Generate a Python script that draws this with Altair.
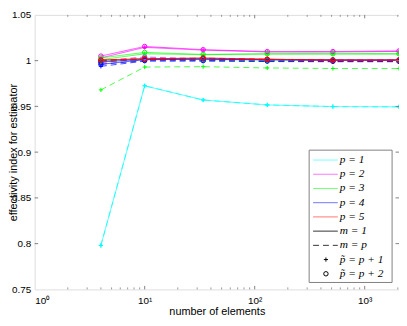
import altair as alt
import pandas as pd

# ---------------- data ----------------
x_elements = [4, 10, 34, 130, 514, 2050]

p_levels = ["1", "2", "3", "4", "5"]
p_colors = ["#00ffff", "#ff00ff", "#00ff00", "#0000ff", "#ff0000"]

# p = 1  (m = 1 and m = p coincide)
p1_m1_pp1 = [0.798, 0.9725, 0.957, 0.9516, 0.9498, 0.9495]
p1_m1_pp2 = [0.9990, 1.0030, 1.0010, 1.0005, 1.0002, 1.0001]
p1_mp_pp1 = [0.798, 0.9725, 0.957, 0.9516, 0.9498, 0.9495]
p1_mp_pp2 = [0.9990, 1.0030, 1.0010, 1.0005, 1.0002, 1.0001]
# p = 2
p2_m1_pp1 = [1.0030, 1.0145, 1.0115, 1.0095, 1.0095, 1.0100]
p2_m1_pp2 = [1.0050, 1.0155, 1.0120, 1.0099, 1.0099, 1.0106]
p2_mp_pp1 = [0.9980, 1.0020, 1.0005, 0.9995, 0.9995, 0.9995]
p2_mp_pp2 = [1.0000, 1.0040, 1.0020, 1.0010, 1.0000, 1.0000]
# p = 3
p3_m1_pp1 = [1.0010, 1.0075, 1.0065, 1.0072, 1.0073, 1.0073]
p3_m1_pp2 = [1.0030, 1.0090, 1.0068, 1.0075, 1.0075, 1.0075]
p3_mp_pp1 = [0.9680, 0.9930, 0.9934, 0.9920, 0.9914, 0.9914]
p3_mp_pp2 = [0.9990, 1.0010, 1.0005, 1.0000, 0.9998, 0.9998]
# p = 4
p4_m1_pp1 = [0.9960, 1.0010, 1.0015, 1.0010, 1.0005, 1.0005]
p4_m1_pp2 = [0.9985, 1.0015, 1.0020, 1.0012, 1.0008, 1.0008]
p4_mp_pp1 = [0.9938, 0.9995, 0.9995, 0.9990, 0.9988, 0.9988]
p4_mp_pp2 = [0.9960, 1.0000, 1.0000, 0.9995, 0.9992, 0.9992]
# p = 5
p5_m1_pp1 = [1.0005, 1.0020, 1.0025, 1.0015, 1.0006, 1.0006]
p5_m1_pp2 = [1.0006, 1.0020, 1.0030, 1.0016, 1.0006, 1.0006]
p5_mp_pp1 = [1.0000, 1.0015, 1.0025, 1.0012, 1.0004, 1.0004]
p5_mp_pp2 = [1.0005, 1.0018, 1.0028, 1.0014, 1.0005, 1.0005]

y_ticks = [0.75, 0.8, 0.85, 0.9, 0.95, 1.0, 1.05]
x_major = [1, 10, 100, 1000]
x_minor = [2, 3, 4, 5, 6, 7, 8, 9, 20, 30, 40, 50, 60, 70, 80, 90,
           200, 300, 400, 500, 600, 700, 800, 900, 2000]

legend_labels = ["p = 1", "p = 2", "p = 3", "p = 4", "p = 5",
                 "m = 1", "m = p", "p\u0303 = p + 1", "p\u0303 = p + 2"]
legend_colors = p_colors + ["#333333", "#333333", "#000000", "#000000"]

# ---------------- build tables ----------------
series = {
    ("1", "m1", "plus"): p1_m1_pp1, ("1", "m1", "circle"): p1_m1_pp2,
    ("1", "mp", "plus"): p1_mp_pp1, ("1", "mp", "circle"): p1_mp_pp2,
    ("2", "m1", "plus"): p2_m1_pp1, ("2", "m1", "circle"): p2_m1_pp2,
    ("2", "mp", "plus"): p2_mp_pp1, ("2", "mp", "circle"): p2_mp_pp2,
    ("3", "m1", "plus"): p3_m1_pp1, ("3", "m1", "circle"): p3_m1_pp2,
    ("3", "mp", "plus"): p3_mp_pp1, ("3", "mp", "circle"): p3_mp_pp2,
    ("4", "m1", "plus"): p4_m1_pp1, ("4", "m1", "circle"): p4_m1_pp2,
    ("4", "mp", "plus"): p4_mp_pp1, ("4", "mp", "circle"): p4_mp_pp2,
    ("5", "m1", "plus"): p5_m1_pp1, ("5", "m1", "circle"): p5_m1_pp2,
    ("5", "mp", "plus"): p5_mp_pp1, ("5", "mp", "circle"): p5_mp_pp2,
}
rows = []
for k, ((p, m, pt), vals) in enumerate(series.items()):
    for i, (xv, yv) in enumerate(zip(x_elements, vals)):
        rows.append({"sid": k, "p": p, "m": m, "pt": pt, "n": xv, "v": yv, "o": k})
df = pd.DataFrame(rows)

W, H = 369, 278
AX = "#808080"
FONT = "Liberation Sans, DejaVu Sans, Arial, sans-serif"

xscale = alt.Scale(type="log", domain=[1, 2050], nice=False)
yscale = alt.Scale(domain=[0.75, 1.05], nice=False, zero=False)

x_axis = alt.Axis(values=x_major, ticks=False, domain=False, grid=False,
                  labelPadding=6, title="number of elements", titleY=22,
                  titleBaseline="middle", titleFontWeight=400, titleFontSize=11,
                  labelExpr="datum.value == 1 ? '10\u2070' : datum.value == 10 ? '10\u00b9' : datum.value == 100 ? '10\u00b2' : '10\u00b3'")
y_axis = alt.Axis(values=y_ticks, ticks=False, domain=False, grid=False,
                  labelPadding=4, labelExpr="format(datum.value, '~g')",
                  title="effectivity index for estimator", titleX=-21,
                  titleBaseline="middle", titleFontWeight=400, titleFontSize=11)


def X(field):
    return alt.X(field, type="quantitative", scale=xscale, axis=x_axis)


def Y(field):
    return alt.Y(field, type="quantitative", scale=yscale, axis=y_axis)


color = alt.Color("p:N", scale=alt.Scale(domain=p_levels, range=p_colors), legend=None)

base = alt.Chart(df)

lines = base.mark_line(strokeWidth=1, opacity=0.7).encode(
    x=X("n"), y=Y("v"), color=color,
    strokeDash=alt.StrokeDash("m:N", scale=alt.Scale(domain=["m1", "mp"], range=[[1, 0], [6, 4]]), legend=None),
    detail="sid:N",
)
pluses = base.transform_filter(alt.datum.pt == "plus").mark_point(
    shape="M-1,0L1,0M0,-1L0,1", filled=False, size=18, strokeWidth=1, opacity=1
).encode(x=X("n"), y=Y("v"), stroke=alt.Stroke("p:N", scale=alt.Scale(domain=p_levels, range=p_colors), legend=None))
circles = base.transform_filter(alt.datum.pt == "circle").mark_point(
    shape="circle", filled=False, size=20, strokeWidth=1, opacity=1
).encode(x=X("n"), y=Y("v"), stroke=alt.Stroke("p:N", scale=alt.Scale(domain=p_levels, range=p_colors), legend=None))

# inward ticks (MATLAB style) through the shared scales
yt = pd.DataFrame({"t": y_ticks[1:-1]})
xmaj = pd.DataFrame({"t": x_major[1:]})
xmin = pd.DataFrame({"t": x_minor})
tick_y_left = alt.Chart(yt).mark_rule(color=AX, strokeWidth=1).encode(
    y=Y("t"), x=alt.value(0), x2=alt.value(3.5))
tick_y_right = alt.Chart(yt).mark_rule(color=AX, strokeWidth=1).encode(
    y=Y("t"), x=alt.value(W - 3.5), x2=alt.value(W))
tick_xmaj_b = alt.Chart(xmaj).mark_rule(color=AX, strokeWidth=1).encode(
    x=X("t"), y=alt.value(H), y2=alt.value(H - 3.5))
tick_xmaj_t = alt.Chart(xmaj).mark_rule(color=AX, strokeWidth=1).encode(
    x=X("t"), y=alt.value(0), y2=alt.value(3.5))
tick_xmin_b = alt.Chart(xmin).mark_rule(color=AX, strokeWidth=0.8).encode(
    x=X("t"), y=alt.value(H), y2=alt.value(H - 2))
tick_xmin_t = alt.Chart(xmin).mark_rule(color=AX, strokeWidth=0.8).encode(
    x=X("t"), y=alt.value(0), y2=alt.value(2))

# manual MATLAB-like legend box
leg = pd.DataFrame({"label": legend_labels, "col": legend_colors, "i": list(range(len(legend_labels)))})
LX0, LX1, LY0, LY1 = 278, 362, 137, 271
leg_box = alt.Chart(pd.DataFrame({"a": [0]})).mark_rect(
    fill="white", stroke=AX, strokeWidth=1).encode(
    x=alt.value(LX0), x2=alt.value(LX1), y=alt.value(LY0), y2=alt.value(LY1))
legb = alt.Chart(leg).transform_calculate(ly="147 + datum.i * 14.4")
leg_lines = legb.transform_filter("datum.i <= 5").mark_rule(strokeWidth=1).encode(
    x=alt.value(282), x2=alt.value(307), y=alt.Y("ly:Q", scale=None),
    color=alt.Color("col:N", scale=None), opacity=alt.condition("datum.i <= 4", alt.value(0.55), alt.value(1)))
leg_dash = legb.transform_filter("datum.i == 6").mark_rule(strokeWidth=1, strokeDash=[6, 4]).encode(
    x=alt.value(282), x2=alt.value(307), y=alt.Y("ly:Q", scale=None),
    color=alt.Color("col:N", scale=None))
leg_plus = legb.transform_filter("datum.i == 7").mark_point(
    shape="M-1,0L1,0M0,-1L0,1", filled=False, size=18, strokeWidth=1, opacity=1).encode(
    x=alt.value(295), y=alt.Y("ly:Q", scale=None), stroke=alt.Stroke("col:N", scale=None))
leg_circ = legb.transform_filter("datum.i == 8").mark_point(
    shape="circle", filled=False, size=20, strokeWidth=1, opacity=1).encode(
    x=alt.value(295), y=alt.Y("ly:Q", scale=None), stroke=alt.Stroke("col:N", scale=None))
leg_text = legb.mark_text(align="left", baseline="middle", fontSize=11.5, fontStyle="italic",
                          font="Liberation Serif, DejaVu Serif, serif", color="black").encode(
    x=alt.value(309), y=alt.Y("ly:Q", scale=None), text="label:N")

chart = alt.layer(
    lines, pluses, circles,
    tick_y_left, tick_y_right, tick_xmaj_b, tick_xmaj_t, tick_xmin_b, tick_xmin_t,
    leg_box, leg_lines, leg_dash, leg_plus, leg_circ, leg_text,
).properties(
    width=W, height=H,
    autosize=alt.AutoSizeParams(type="none"),
    padding={"left": 27, "top": 5, "right": 0, "bottom": 27},
).configure_view(
    stroke=AX, strokeWidth=1
).configure_axis(
    labelFont=FONT, labelFontSize=9, labelColor="#333333",
    titleFont=FONT, titleFontSize=11, titleFontWeight=400, titleColor="#222222",
).configure(background="white")

chart.save("out.html", embed_options={"renderer": "svg", "actions": False})
